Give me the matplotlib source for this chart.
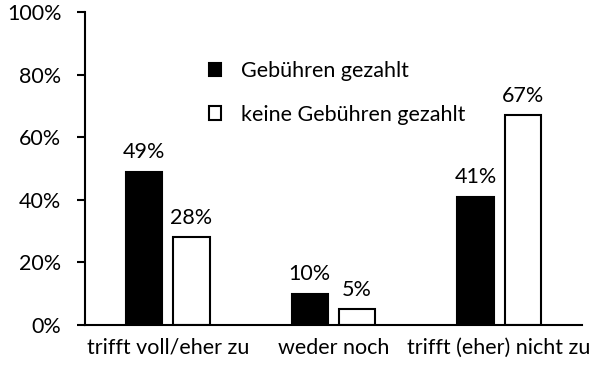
import numpy as np
import matplotlib.pyplot as plt
from matplotlib.patches import Patch
from matplotlib.ticker import PercentFormatter

plt.rcParams['font.family'] = ['Lato', 'DejaVu Sans']

categories = ['trifft voll/eher zu', 'weder noch', 'trifft (eher) nicht zu']
paid = [49, 10, 41]
not_paid = [28, 5, 67]
series_names = ['Gebühren gezahlt', 'keine Gebühren gezahlt']

fs = 15.5
fig = plt.figure(figsize=(5.9, 3.72), dpi=100)
ax = fig.add_axes([85/590, 1 - 325/372, 497/590, 313/372])

x = np.arange(len(categories))
w = 0.22
off = 0.143
b1 = ax.bar(x - off, paid, w, color='black', edgecolor='black', linewidth=1.5)
b2 = ax.bar(x + off, not_paid, w, color='white', edgecolor='black', linewidth=1.5)

for bars, vals in [(b1, paid), (b2, not_paid)]:
    for b, v in zip(bars, vals):
        ax.text(b.get_x() + b.get_width()/2, v + 3, f'{v}%', ha='center', va='bottom', fontsize=fs)

ax.set_xlim(-0.5, 2.5)
ax.set_ylim(0, 100)
ax.set_yticks(range(0, 101, 20))
ax.yaxis.set_major_formatter(PercentFormatter(decimals=0))
ax.set_xticks(x)
ax.set_xticklabels(categories)
ax.tick_params(axis='x', length=0, pad=9, labelsize=fs)
ax.tick_params(axis='y', length=6, width=1.5, direction='out', pad=11, labelsize=fs)
for s in ['top', 'right']:
    ax.spines[s].set_visible(False)
ax.spines['left'].set_linewidth(1.5)
ax.spines['bottom'].set_linewidth(1.5)

handles = [Patch(facecolor='black', edgecolor='black', linewidth=1.5),
           Patch(facecolor='white', edgecolor='black', linewidth=1.5)]
ax.legend(handles, series_names, frameon=False, fontsize=fs,
          loc='upper left', bbox_to_anchor=(0.21, 0.905),
          handlelength=0.55, handleheight=0.6, handletextpad=0.95, labelspacing=1.1)

fig.savefig('out.png', dpi=100)
